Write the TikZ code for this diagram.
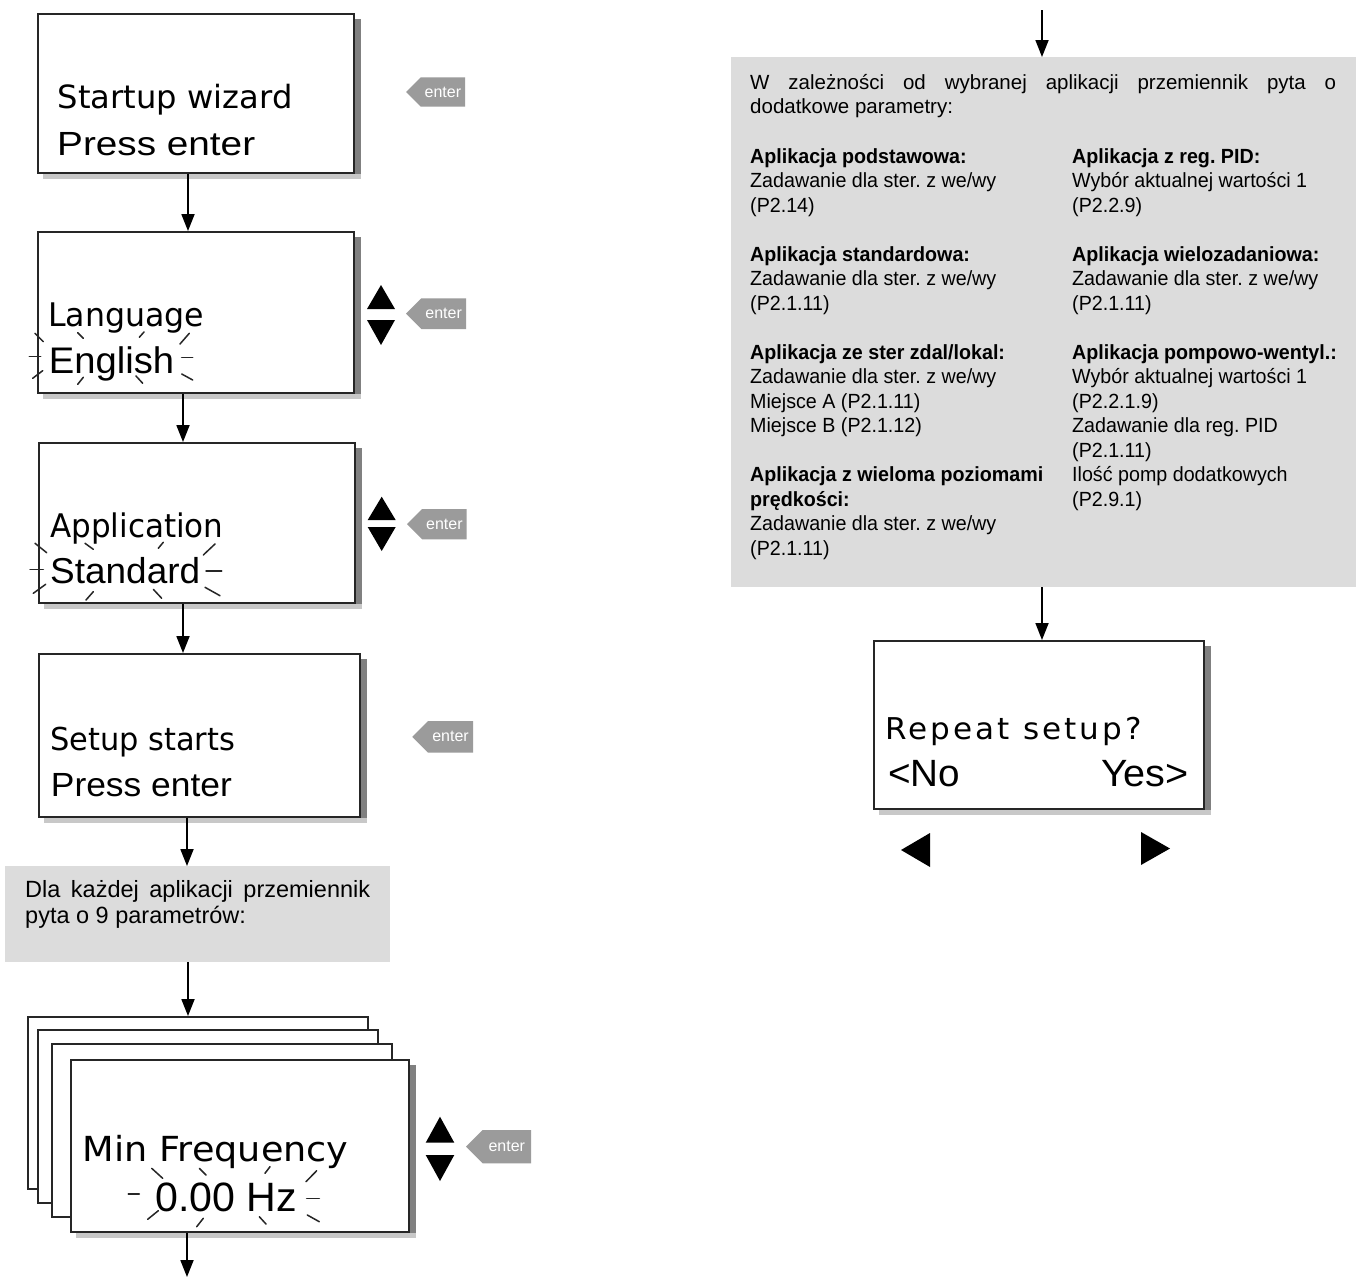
\documentclass[tikz,border=0pt]{standalone}
\usepackage{fontspec}
\usepackage{graphicx}
\setmainfont{Liberation Sans}
\newfontfamily\lcdA{DejaVu Sans}
\newfontfamily\lcdAsp[LetterSpace=10]{DejaVu Sans}
\newfontfamily\lcdB{Liberation Sans}
\newfontfamily\narrowf[FakeStretch=0.96]{Liberation Sans}
\usetikzlibrary{arrows.meta,calc,backgrounds}
\definecolor{graybg}{RGB}{220,220,220}
\definecolor{keygray}{RGB}{155,155,155}
\definecolor{shadowR}{RGB}{128,128,128}
\definecolor{shadowB}{RGB}{200,200,200}
\newcommand{\lcdtxt}[4]{\resizebox{#3pt}{\height}{\fontsize{#2}{#2}#1#4}}
\newcommand{\lcdshadow}[1]{%
  \begin{scope}[on background layer]
    \fill[shadowR] ($(#1.north east)+(0,6)$) rectangle ($(#1.south east)+(6,5)$);
    \fill[shadowB] ($(#1.south west)+(6,0)$) rectangle ($(#1.south east)+(6,5)$);
  \end{scope}}
\newcommand{\enterkey}[5]{% name, tip x, top y, bottom y, right x
  \pgfmathsetmacro{\ekh}{(#4-#3)/2}%
  \pgfmathsetmacro{\ekm}{(#4+#3)/2}%
  \fill[keygray] (#2,\ekm) -- (#2+\ekh,#3) -- (#5,#3) -- (#5,#4) -- (#2+\ekh,#4) -- cycle;
  \node[keytext] (#1) at ({(#2+\ekh+#5)/2},\ekm) {enter};}
\tikzset{
  lcd/.style={draw=black!85, line width=1.6pt, fill=white, inner sep=0pt, anchor=north west},
  lcdt/.style={inner sep=0pt, anchor=base west},
  gbox/.style={fill=graybg, inner sep=0pt, anchor=north west},
  arr/.style={line width=1.8pt, -{Triangle[width=13pt,length=17pt]}},
  ray/.style={line width=1.5pt, black!85, line cap=round},
  keytext/.style={text=white, font=\fontsize{16}{16}\selectfont, inner sep=0pt},
}
\begin{document}
\begin{tikzpicture}[x=1pt,y=-1pt]
\begin{scope}[on background layer]
  \fill[white] (0,0) rectangle (1361,1277);
\end{scope}
\useasboundingbox (0,0) rectangle (1361,1277);

% ---------- left column boxes ----------
\node[lcd, minimum width=316pt, minimum height=159pt] (b1) at (37,13) {};
\lcdshadow{b1}
\node[lcd, minimum width=316pt, minimum height=161pt] (b2) at (37,231) {};
\lcdshadow{b2}
\node[lcd, minimum width=316pt, minimum height=160pt] (b3) at (38,442) {};
\lcdshadow{b3}
\node[lcd, minimum width=321pt, minimum height=163pt] (b4) at (38,653) {};
\lcdshadow{b4}
\node[gbox, minimum width=385pt, minimum height=96pt] (gL) at (5,866) {};

\node[lcd, minimum width=340pt, minimum height=172pt] (sA) at (27,1016) {};
\node[lcd, minimum width=340pt, minimum height=173pt] (sB) at (37,1029) {};
\node[lcd, minimum width=340pt, minimum height=173pt] (sC) at (51,1043) {};
\node[lcd, minimum width=338pt, minimum height=172pt] (sD) at (70,1059) {};
\lcdshadow{sD}

% ---------- right column boxes ----------
\node[gbox, minimum width=625pt, minimum height=530pt] (gR) at (731,57) {};
\node[lcd, minimum width=330pt, minimum height=168pt] (rep) at (873,640) {};
\lcdshadow{rep}

% ---------- display texts ----------
\node[lcdt] (t1a) at (57.7,108.3) {\lcdtxt{\lcdA}{32}{234.6}{Startup wizard}};
\node[lcdt] (t1b) at (57,155) {\lcdtxt{\lcdB}{33.5}{198}{Press enter}};
\node[lcdt] (t2a) at (48,326.7) {\lcdtxt{\lcdA}{32.5}{156}{Language}};
\node[lcdt] (t2b) at (48.7,373.3) {\lcdtxt{\lcdB}{37}{125.3}{English}};
\node[lcdt] (t3a) at (50,537.3) {\lcdtxt{\lcdA}{32.5}{173.3}{Application}};
\node[lcdt] (t3b) at (50,583.3) {\lcdtxt{\lcdB}{36}{150}{Standard}};
\node[lcdt] (t4a) at (50,750) {\lcdtxt{\lcdA}{31.5}{185}{Setup starts}};
\node[lcdt] (t4b) at (50.7,796) {\lcdtxt{\lcdB}{33.5}{181}{Press enter}};
\node[lcdt] (t5a) at (82.7,1161.7) {\lcdtxt{\lcdA}{34.5}{265.6}{Min Frequency}};
\node[lcdt] (t5b) at (155,1211.7) {\lcdtxt{\lcdB}{41}{141.7}{0.00 Hz}};
\node[lcdt] (t6a) at (885,739.3) {\lcdtxt{\lcdAsp}{30}{256.7}{Repeat setup?}};
\node[lcdt] (t6b) at (888,786.7) {\lcdtxt{\lcdB}{38}{72}{<No}};
\node[lcdt, anchor=base east] (t6c) at (1189,786.7) {\lcdtxt{\lcdB}{38}{87.7}{Yes>}};

% ---------- blinking rays ----------
% English
\draw[ray] (35,333.3) -- (43.3,341.7);
\draw[ray] (29.3,356.7) -- (40.7,356.7);
\draw[ray] (32.7,378.3) -- (42.7,370.7);
\draw[ray] (77.7,332.7) -- (83.3,338.3);
\draw[ray] (139.3,337.3) -- (144,332);
\draw[ray] (180,344) -- (189.3,333.3);
\draw[ray] (181.7,357.7) -- (192.7,357.7);
\draw[ray] (181.7,374) -- (192.7,380);
\draw[ray] (77.7,384.3) -- (83.3,377.3);
\draw[ray] (136,376) -- (142.7,383.3);
% Standard
\draw[ray] (35,543.3) -- (46.7,552.7);
\draw[ray] (30,569.3) -- (43.3,569.3);
\draw[ray] (33.3,593.3) -- (45.7,584.3);
\draw[ray] (85,543.3) -- (93.3,549.3);
\draw[ray] (158.3,548.3) -- (163.3,542.3);
\draw[ray] (203.3,555) -- (215,544);
\draw[ray] (206,571) -- (221.7,571);
\draw[ray] (205,587.3) -- (220,595.7);
\draw[ray] (86,600) -- (93.3,591.7);
\draw[ray] (153.3,589.3) -- (161.7,598.3);
% 0.00 Hz
\draw[ray] (151.7,1168.3) -- (162.7,1178.3);
\draw[ray] (199.3,1168.3) -- (206,1175);
\draw[ray] (265,1173.3) -- (270,1166.7);
\draw[ray] (306,1181.7) -- (316.7,1170.7);
\draw[ray] (128.3,1194) -- (139.3,1194);
\draw[ray] (306.7,1198.3) -- (319.3,1198.3);
\draw[ray] (147.7,1219.3) -- (158.3,1210.7);
\draw[ray] (196.7,1226.7) -- (203.3,1218.3);
\draw[ray] (259.3,1216.7) -- (266,1224);
\draw[ray] (307.3,1215) -- (319.3,1221.7);

% ---------- up / down and left / right triangles ----------
\fill (381,285) -- (395,309) -- (367,309) -- cycle;
\fill (367,320) -- (395,320) -- (381,345) -- cycle;
\fill (381.7,496.7) -- (395.7,520) -- (367.7,520) -- cycle;
\fill (367.7,527) -- (395.7,527) -- (381.7,551) -- cycle;
\fill (440,1116.7) -- (454.3,1142.7) -- (425.7,1142.7) -- cycle;
\fill (425.7,1155) -- (454.3,1155) -- (440,1181) -- cycle;
\fill (901,850) -- (930,833) -- (930,867) -- cycle;
\fill (1141,832) -- (1170,848.5) -- (1141,865) -- cycle;

% ---------- enter keys ----------
\enterkey{k1}{406}{77.3}{106.7}{465}
\enterkey{k2}{406}{298.3}{329}{466}
\enterkey{k3}{407}{509}{539.3}{466.7}
\enterkey{k4}{412.3}{721}{752.7}{473}
\enterkey{k5}{466}{1130}{1163.3}{531}

% ---------- gray box texts ----------
\node[anchor=base west, inner sep=0pt] (gLt) at (25,897) {\parbox[t]{345pt}{\fontsize{23.5}{26}\selectfont\tolerance=10000\hyphenpenalty=10000 Dla każdej aplikacji przemiennik pyta o 9 parametrów:}};
\node[anchor=base west, inner sep=0pt] (gRt) at (750,89) {\parbox[t]{586pt}{\fontsize{20.5}{24}\selectfont\tolerance=10000\hyphenpenalty=10000 W zależności od wybranej aplikacji przemiennik pyta o\linebreak dodatkowe parametry:}};
\node[anchor=base west, inner sep=0pt] (cL) at (750,163) {\parbox[t]{315pt}{\narrowf\fontsize{20.5}{24.5}\selectfont\frenchspacing
\textbf{Aplikacja podstawowa:}\\
Zadawanie dla ster. z we/wy\\
(P2.14)\\[24.5pt]
\textbf{Aplikacja standardowa:}\\
Zadawanie dla ster. z we/wy\\
(P2.1.11)\\[24.5pt]
\textbf{Aplikacja ze ster zdal/lokal:}\\
Zadawanie dla ster. z we/wy\\
Miejsce A (P2.1.11)\\
Miejsce B (P2.1.12)\\[24.5pt]
\textbf{Aplikacja z wieloma poziomami}\\
\textbf{prędkości:}\\
Zadawanie dla ster. z we/wy\\
(P2.1.11)}};
\node[anchor=base west, inner sep=0pt] (cR) at (1072,163) {\parbox[t]{280pt}{\narrowf\fontsize{20.5}{24.5}\selectfont\frenchspacing
\textbf{Aplikacja z reg. PID:}\\
Wybór aktualnej wartości 1\\
(P2.2.9)\\[24.5pt]
\textbf{Aplikacja wielozadaniowa:}\\
Zadawanie dla ster. z we/wy\\
(P2.1.11)\\[24.5pt]
\textbf{Aplikacja pompowo-wentyl.:}\\
Wybór aktualnej wartości 1\\
(P2.2.1.9)\\
Zadawanie dla reg. PID\\
(P2.1.11)\\
Ilość pomp dodatkowych\\
(P2.9.1)}};

% ---------- connectors ----------
\coordinate (xa) at (188,0);
\coordinate (xb) at (183,0);
\coordinate (xc) at (187,0);
\coordinate (endL) at (187,1277);
\coordinate (topR) at (1042,10);
\draw[arr] (b1.south -| xa) -- (b2.north -| xa);
\draw[arr] (b2.south -| xb) -- (b3.north -| xb);
\draw[arr] (b3.south -| xb) -- (b4.north -| xb);
\draw[arr] (b4.south -| xc) -- (gL.north -| xc);
\draw[arr] (gL.south -| xa) -- (sA.north -| xa);
\draw[arr] (sD.south -| endL) -- (endL);
\draw[arr] (topR) -- (topR |- gR.north);
\draw[arr] (gR.south -| topR) -- (rep.north -| topR);
\end{tikzpicture}
\end{document}
